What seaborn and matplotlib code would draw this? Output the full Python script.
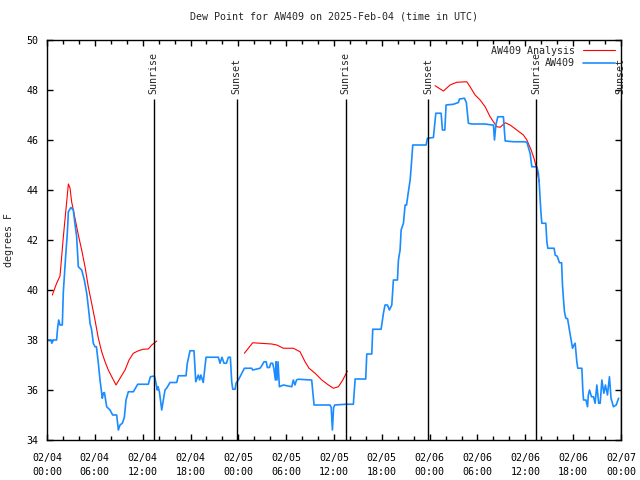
import numpy as np
import pandas as pd
import matplotlib
matplotlib.use("Agg")
import matplotlib.pyplot as plt
from matplotlib.ticker import MultipleLocator
import seaborn as sns

# Observed dew point (AW409), hours since 2025-02-04 00:00 UTC
obs_hours = [
    0.0, 0.5, 0.6, 0.8, 1.2, 1.34, 1.47, 1.63, 1.92, 2.05, 2.35, 2.55, 2.68, 3.0, 3.3, 3.5,
    3.72, 3.93, 4.35, 4.68, 4.98, 5.18, 5.4, 5.6, 5.81, 6.02, 6.2, 6.44, 6.65, 6.94, 7.06, 7.2,
    7.49, 7.9, 8.24, 8.74, 8.95, 9.16, 9.45, 9.7, 9.91, 10.2, 10.83, 11.38, 12.71, 12.97, 13.47,
    13.55, 13.84, 13.93, 14.1, 14.39, 14.6, 14.8, 15.0, 15.43, 16.27, 16.48, 17.44, 17.6, 17.94,
    18.44, 18.66, 18.98, 19.15, 19.3, 19.6, 19.95, 21.5, 21.7, 21.95, 22.2, 22.5, 22.75, 23.0,
    23.17, 23.3, 23.59, 23.71, 24.0, 24.43, 24.76, 25.68, 25.8, 26.72, 26.9, 27.23, 27.5, 27.64,
    27.9, 28.07, 28.3, 28.45, 28.65, 28.73, 28.85, 28.98, 29.15, 29.65, 30.7, 30.9, 31.1, 31.3,
    31.53, 33.2, 33.4, 33.5, 35.5, 35.65, 35.8, 35.95, 36.1, 37.47, 38.43, 38.65, 39.98, 40.11,
    40.74, 40.86, 41.91, 42.2, 42.4, 42.7, 42.95, 43.25, 43.45, 43.96, 44.08, 44.29, 44.42,
    44.71, 44.92, 45.1, 45.33, 45.55, 45.67, 45.88, 47.55, 47.72, 48.47, 48.77, 49.44, 49.6,
    49.9, 50.06, 50.98, 51.6, 51.74, 52.36, 52.6, 52.86, 53.28, 54.96, 55.8, 56.0, 56.13, 56.3,
    56.55, 57.25, 57.47, 58.51, 59.98, 60.2, 60.6, 60.81, 61.44, 61.64, 61.77, 61.86, 61.98,
    62.07, 62.57, 62.7, 62.82, 63.61, 63.74, 64.0, 64.28, 64.55, 64.66, 64.79, 64.91, 65.08,
    65.3, 65.53, 65.75, 65.92, 66.1, 66.25, 66.46, 66.58, 67.09, 67.21, 67.3, 67.6, 67.8, 67.9,
    68.05, 68.3, 68.55, 68.75, 68.97, 69.2, 69.39, 69.6, 69.85, 70.05, 70.3, 70.55, 70.75,
    71.05, 71.4, 71.7,
]
obs_dewpt = [
    38.0, 38.0, 37.87, 38.0, 38.0, 38.5, 38.8, 38.6, 38.6, 39.93, 41.4, 42.27, 43.13, 43.3, 43.2, 42.67,
    42.13, 40.93, 40.8, 40.4, 39.87, 39.33, 38.67, 38.4, 37.87, 37.73, 37.73, 37.07, 36.4, 35.67, 35.87, 35.9,
    35.33, 35.2, 35.0, 35.0, 34.4, 34.6, 34.67, 34.9, 35.6, 35.93, 35.93, 36.23, 36.23, 36.53, 36.56,
    36.47, 36.0, 36.13, 35.93, 35.2, 35.6, 36.0, 36.07, 36.3, 36.3, 36.57, 36.57, 37.07, 37.57,
    37.57, 36.33, 36.6, 36.4, 36.6, 36.3, 37.31, 37.31, 37.07, 37.31, 37.07, 37.07, 37.31, 37.31,
    36.33, 36.03, 36.03, 36.27, 36.4, 36.67, 36.87, 36.87, 36.8, 36.87, 36.95, 37.13, 37.13, 36.9,
    36.9, 37.07, 37.07, 36.87, 36.4, 37.13, 36.4, 37.13, 36.13, 36.2, 36.13, 36.4, 36.2, 36.4,
    36.43, 36.4, 35.73, 35.4, 35.4, 35.3, 34.4, 35.3, 35.4, 35.43, 35.43, 36.44, 36.44, 37.44,
    37.44, 38.43, 38.43, 39.07, 39.4, 39.4, 39.2, 39.4, 40.4, 40.4, 41.2, 41.6, 42.4,
    42.67, 43.4, 43.4, 43.93, 44.4, 44.87, 45.8, 45.8, 46.07, 46.1, 47.07, 47.07, 46.4,
    46.4, 47.4, 47.43, 47.5, 47.64, 47.67, 47.5, 46.67, 46.64, 46.64, 46.6, 46.6, 46.0, 46.6,
    46.93, 46.93, 45.96, 45.93, 45.93, 45.9, 45.47, 44.93, 44.93, 44.67, 44.13, 43.6, 43.0,
    42.67, 42.67, 41.93, 41.67, 41.67, 41.4, 41.35, 41.09, 41.09, 40.2, 39.6, 39.13, 38.87,
    38.85, 38.4, 38.0, 37.67, 37.8, 37.87, 37.13, 36.87, 36.87, 36.0, 35.6, 35.6, 35.33, 35.8,
    36.0, 35.73, 35.73, 35.47, 36.2, 35.47, 35.47, 36.4, 35.87, 36.2, 35.8, 36.53, 35.67,
    35.33, 35.4, 35.67,
]

# Analysis dew point, three separate segments
ana1_hours = [0.67, 1.21, 1.63, 1.84, 2.05, 2.35, 2.68, 2.89, 3.09, 3.51, 3.93, 4.35, 4.77, 5.18, 5.6,
              6.02, 6.44, 6.86, 7.28, 7.69, 8.12, 8.66, 9.16, 9.79, 10.29, 10.83, 11.46, 12.08,
              12.71, 13.14, 13.76]
ana1_dewpt = [39.8, 40.27, 40.56, 41.33, 42.13, 43.13, 44.24, 44.07, 43.53, 42.87, 42.2, 41.6, 40.93,
              40.13, 39.47, 38.8, 38.07, 37.53, 37.13, 36.8, 36.53, 36.2, 36.47, 36.8, 37.2, 37.47,
              37.57, 37.63, 37.64, 37.8, 37.96]
ana2_hours = [24.76, 25.8, 26.72, 28.19, 28.82, 29.65, 30.9, 31.74, 32.37, 32.87, 33.63, 34.47, 35.3,
              35.93, 36.55, 37.1, 37.68]
ana2_dewpt = [37.47, 37.89, 37.87, 37.84, 37.8, 37.67, 37.67, 37.53, 37.13, 36.87, 36.67, 36.4, 36.2,
              36.07, 36.13, 36.4, 36.76]
ana3_hours = [48.68, 49.73, 50.56, 51.4, 52.66, 53.07, 53.7, 54.33, 54.96, 55.58, 56.0, 56.42, 56.84,
              57.47, 58.09, 58.93, 59.76, 60.19, 60.73, 61.15, 61.44, 61.77]
ana3_dewpt = [48.17, 47.96, 48.2, 48.31, 48.33, 48.13, 47.8, 47.6, 47.33, 46.93, 46.73, 46.53, 46.51,
              46.69, 46.6, 46.4, 46.2, 46.0, 45.6, 45.2, 44.8, 44.3]

# Sunrise / sunset markers
sun_hours = [13.39, 23.8, 37.48, 47.85, 61.36, 71.98]
sun_labels = ["Sunrise", "Sunset", "Sunrise", "Sunset", "Sunrise", "Sunset"]

tick_hours = list(range(0, 73, 6))
tick_labels = ["02/04\n00:00", "02/04\n06:00", "02/04\n12:00", "02/04\n18:00",
               "02/05\n00:00", "02/05\n06:00", "02/05\n12:00", "02/05\n18:00",
               "02/06\n00:00", "02/06\n06:00", "02/06\n12:00", "02/06\n18:00",
               "02/07\n00:00"]

sns.set_theme(style="ticks")
plt.rcParams["font.family"] = ["DejaVu Sans Mono"]
plt.rcParams["font.size"] = 7.2

fig = plt.figure(figsize=(6.4, 4.8), dpi=100)
ax = fig.add_axes([47 / 640, 40 / 480, 574 / 640, 400 / 480])

red = "#ff0000"
blue = "#1a8cff"

for i, (hh, vv) in enumerate([(ana1_hours, ana1_dewpt), (ana2_hours, ana2_dewpt), (ana3_hours, ana3_dewpt)]):
    sns.lineplot(x=hh, y=vv, ax=ax, color=red, linewidth=0.8, sort=False, estimator=None,
                 label="AW409 Analysis" if i == 0 else None)

sns.lineplot(x=obs_hours, y=obs_dewpt, ax=ax, color=blue, linewidth=1.2, sort=False,
             estimator=None, label="AW409")

ax.vlines(sun_hours, 34, 47.65, color="black", linewidth=1.0)
for h, lab in zip(sun_hours, sun_labels):
    ax.text(h, 47.85, lab, rotation=90, ha="center", va="bottom", fontsize=7.2)

ax.set_xlim(0, 72)
ax.set_ylim(34, 50)
ax.set_xticks(tick_hours)
ax.set_xticklabels(tick_labels, linespacing=1.6)
ax.xaxis.set_minor_locator(MultipleLocator(2))
ax.set_yticks(np.arange(34, 51, 2))
ax.tick_params(which="both", direction="in", top=True, right=True, width=1.0, color="black",
               labelsize=7.2, labelcolor="black")
ax.tick_params(which="major", length=4.5)
ax.tick_params(axis="x", which="major", pad=9)
ax.tick_params(axis="y", which="major", pad=6)
ax.tick_params(which="minor", length=3)
for s in ax.spines.values():
    s.set_visible(True)
    s.set_color("black")
    s.set_linewidth(1.0)

ax.set_xlabel("")
ax.set_ylabel("degrees F", fontsize=7.2)
ax.yaxis.set_label_coords(-0.058, 0.5)
ax.set_title("Dew Point for AW409 on 2025-Feb-04 (time in UTC)", fontsize=7.2, pad=15)

ax.legend(loc="upper right", frameon=False, markerfirst=False, handlelength=3.2,
          borderaxespad=0.2, labelspacing=0.25, fontsize=7.2, handletextpad=0.8)

fig.savefig("out.png", dpi=100)
